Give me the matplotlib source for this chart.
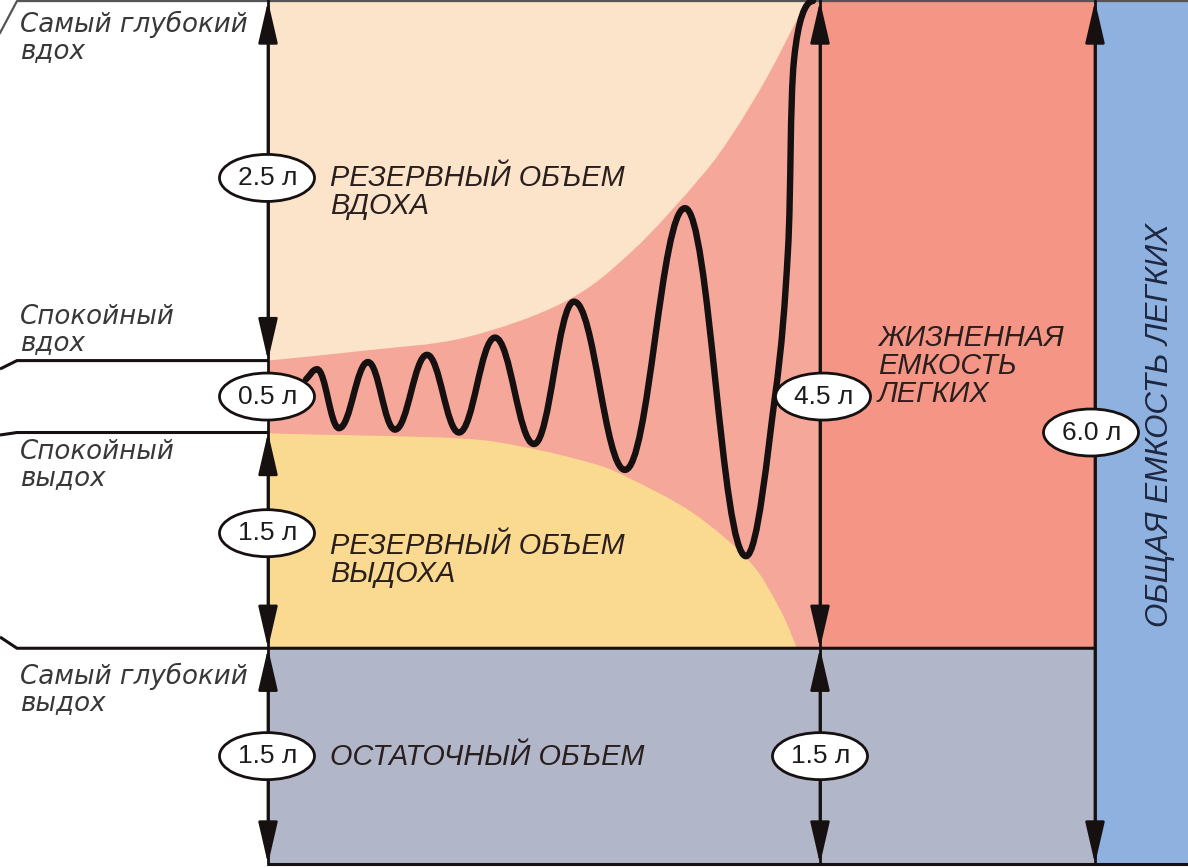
import matplotlib
matplotlib.use('Agg')
import matplotlib.pyplot as plt
from matplotlib.path import Path
from matplotlib.patches import PathPatch, Ellipse, Rectangle
import numpy as np

# ---------------- data (litres) ----------------
RV, ERV, TV, IRV = 1.5, 1.5, 0.5, 2.5
TLC = RV + ERV + TV + IRV          # 6.0
VC = ERV + TV + IRV                # 4.5
EXH = RV + ERV                     # quiet exhale level 3.0
INH = EXH + TV                     # quiet inhale level 3.5

vol_labels = ["2.5 л", "0.5 л", "1.5 л", "1.5 л", "4.5 л", "1.5 л", "6.0 л"]

# spirogram (time in px units, volume in litres)
wave_t = [306, 317, 339, 368, 395, 427, 459, 495, 534, 574, 625, 685, 746, 775, 788, 794, 813]
wave_v = [3.37, 3.44, 3.03, 3.49, 3.02, 3.54, 3.00, 3.66, 2.92, 3.91, 2.74, 4.56, 2.14, 3.25, 4.27, 5.59, 6.0]

# fan boundaries
upper_t = [268, 365, 465, 565, 632, 700, 733, 767, 797, 808]
upper_v = [3.5, 3.57, 3.66, 3.91, 4.26, 4.77, 5.08, 5.47, 5.87, 6.0]
lower_t = [268, 290, 457, 523, 590, 627, 693, 750, 780, 797]
lower_v = [3.0, 2.99, 2.96, 2.90, 2.79, 2.69, 2.44, 2.10, 1.77, 1.5]

left_labels = ["Самый глубокий\nвдох", "Спокойный\nвдох", "Спокойный\nвыдох", "Самый глубокий\nвыдох"]
zone_labels = ["РЕЗЕРВНЫЙ ОБЪЕМ\nВДОХА", "РЕЗЕРВНЫЙ ОБЪЕМ\nВЫДОХА", "ОСТАТОЧНЫЙ ОБЪЕМ",
               "ЖИЗНЕННАЯ\nЕМКОСТЬ\nЛЕГКИХ", "ОБЩАЯ ЕМКОСТЬ ЛЕГКИХ"]

# ---------------- colours ----------------
C_PEACH = '#FCE4CA'
C_YELLOW = '#FAD991'
C_FAN = '#F5A899'
C_RED = '#F59586'
C_GREY = '#B1B6C8'
C_BLUE = '#8EB1DF'
C_LINE = '#161010'

PX = 143.83
Y0 = 864.0
def yv(py):
    return (Y0 - py) / PX

fig = plt.figure(figsize=(11.88, 8.68), dpi=100)
ax = fig.add_axes([0, 0, 1, 1])
ax.set_xlim(0, 1188)
ax.set_ylim(yv(868), yv(0))
ax.axis('off')

XL, XV, XT, XE = 268, 820, 1095, 1188

def catmull_verts(xs, ys):
    P = np.column_stack([xs, ys]).astype(float)
    n = len(P)
    tang = np.zeros_like(P)
    for i in range(n):
        a = P[max(i - 1, 0)]
        b = P[min(i + 1, n - 1)]
        tang[i] = (b - a) / (2 if 0 < i < n - 1 else 1)
    verts = [tuple(P[0])]
    codes = [Path.MOVETO]
    for i in range(n - 1):
        verts += [tuple(P[i] + tang[i] / 3), tuple(P[i + 1] - tang[i + 1] / 3), tuple(P[i + 1])]
        codes += [Path.CURVE4] * 3
    return verts, codes

# backgrounds
ax.add_patch(Rectangle((XL, RV), XV - XL, TLC - RV, facecolor=C_FAN, edgecolor='none', zorder=1))
v, c = catmull_verts(upper_t, upper_v)
c[0] = Path.LINETO
ax.add_patch(PathPatch(Path([(XL, TLC)] + v + [(XL, TLC)], [Path.MOVETO] + c + [Path.CLOSEPOLY]),
                       facecolor=C_PEACH, edgecolor='none', zorder=2))
v, c = catmull_verts(lower_t, lower_v)
c[0] = Path.LINETO
ax.add_patch(PathPatch(Path([(XL, RV)] + v + [(XL, RV)], [Path.MOVETO] + c + [Path.CLOSEPOLY]),
                       facecolor=C_YELLOW, edgecolor='none', zorder=2))
ax.add_patch(Rectangle((XV, RV), XT - XV, TLC - RV, facecolor=C_RED, edgecolor='none', zorder=1))
ax.add_patch(Rectangle((XL, 0), XT - XL, RV, facecolor=C_GREY, edgecolor='none', zorder=1))
ax.add_patch(Rectangle((XT, 0), XE - XT, TLC + 0.05, facecolor=C_BLUE, edgecolor='none', zorder=1))

# spirogram curve
def wave_path(ts, vs, k=0.4):
    P = np.column_stack([ts, vs]).astype(float)
    n = len(P)
    ext = [False] * n
    tang = np.zeros_like(P)
    for i in range(n):
        if i == 0:
            tang[i] = P[1] - P[0]
        elif i == n - 1:
            ext[i] = True
        else:
            if (vs[i] - vs[i - 1]) * (vs[i + 1] - vs[i]) < 0:
                ext[i] = True
            else:
                tang[i] = (P[i + 1] - P[i - 1]) / 2
    verts = [tuple(P[0])]
    codes = [Path.MOVETO]
    for i in range(n - 1):
        dx = P[i + 1, 0] - P[i, 0]
        c1 = P[i] + (np.array([k * dx, 0]) if ext[i] else tang[i] / 3)
        c2 = P[i + 1] - (np.array([k * dx, 0]) if ext[i + 1] else tang[i + 1] / 3)
        verts += [tuple(c1), tuple(c2), tuple(P[i + 1])]
        codes += [Path.CURVE4] * 3
    return Path(verts, codes)

ax.add_patch(PathPatch(wave_path(wave_t, wave_v), facecolor='none', edgecolor=C_LINE,
                       lw=4.6, capstyle='round', joinstyle='round', zorder=6))

# horizontal lines
lk = dict(color=C_LINE, lw=2.2, zorder=5, solid_capstyle='butt')
ax.plot([0, 17, XE], [yv(33), TLC, TLC], color='#555555', lw=1.6, zorder=5)
ax.plot([0, 17, XL], [yv(369), INH, INH], **lk)
ax.plot([0, 17, XL], [yv(435), EXH, EXH], **lk)
ax.plot([0, 17, XT], [yv(637), RV, RV], **lk)
ax.plot([XL, XE], [0, 0], **lk)

# vertical lines
for x in (XL, XV, XT):
    ax.plot([x, x], [0, TLC], color=C_LINE, lw=2.0, zorder=5)

ap = dict(arrowstyle='-|>,head_length=1.3,head_width=0.3', mutation_scale=20,
          lw=2.0, color=C_LINE, shrinkA=0, shrinkB=0)

def arrow(x, frm, to):
    ax.annotate('', xy=(x, to), xytext=(x, frm), arrowprops=ap, zorder=5)

# arrows: (x, centre, tip)
arrow(XL, 4.75, TLC); arrow(XL, 4.75, INH)
arrow(XL, 2.25, EXH); arrow(XL, 2.25, RV)
arrow(XL, 0.75, RV); arrow(XL, 0.75, 0)
arrow(XV, 3.25, TLC); arrow(XV, 3.25, RV)
arrow(XV, 0.75, RV); arrow(XV, 0.75, 0)
arrow(XT, 3.0, TLC); arrow(XT, 3.0, 0)

# volume ellipses
ell_pos = [(XL - 1, RV + ERV + TV + IRV / 2 + 0.02), (XL - 1, EXH + TV / 2), (XL - 1, RV + ERV / 2 + 0.05),
           (XL - 1, RV / 2), (XV + 3, EXH + TV / 2), (XV, RV / 2), (XT - 4, EXH)]
for (x, y), lab in zip(ell_pos, vol_labels):
    ax.add_patch(Ellipse((x, y), 95, 47 / PX, facecolor='white', edgecolor=C_LINE, lw=2.0, zorder=8))
    ax.text(x + 1, y, lab, ha='center', va='center', fontsize=19, color='#1c1c1c',
            family=['Liberation Sans Narrow', 'Liberation Sans', 'DejaVu Sans'], zorder=9)

# left labels
lf = dict(fontsize=18.8, style='italic', color='#383838', family=['DejaVu Sans'],
          ha='left', va='center', linespacing=1.0, zorder=9)
for lab, py in zip(left_labels, [37, 330, 465, 689]):
    ax.text(20, yv(py), lab, **lf)

# zone labels
zf = dict(fontsize=20.8, style='italic', color='#2a1f1f', family=['Liberation Sans', 'DejaVu Sans'],
          ha='left', va='center', linespacing=1.0, zorder=9)
ax.text(330, yv(192), zone_labels[0], **zf)
ax.text(330, yv(560), zone_labels[1], **zf)
ax.text(330, yv(757), zone_labels[2], **zf)
ax.text(878, yv(366), zone_labels[3], **zf)
ax.text(1160, yv(425), zone_labels[4], rotation=90, fontsize=22.5, style='italic', color='#1e2740',
        family=['Liberation Sans', 'DejaVu Sans'], ha='center', va='center', zorder=9)

fig.savefig('out.png', dpi=100, facecolor='white')
